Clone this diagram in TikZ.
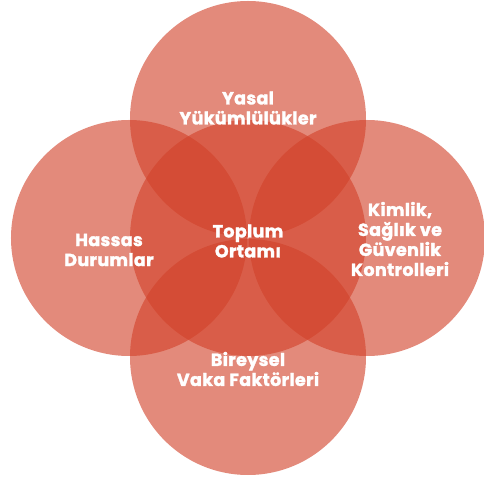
\documentclass[tikz,border=0pt]{standalone}
\usepackage{fontspec}
\setmainfont{Poppins}[BoldFont=* Bold, BoldFeatures={FakeBold=1.6, LetterSpace=2}]
\definecolor{vennred}{RGB}{210,66,42}
\tikzset{
  petal/.style={fill=vennred, fill opacity=0.62},
  petaltext/.style={text=white, inner sep=0pt, align=center,
    font=\bfseries\fontsize{17.5}{20}\selectfont}
}
\begin{document}
\begin{tikzpicture}[x=1pt,y=1pt]
    % --- ÖLÇÜLER ---
    \def\R{118}  % daire yarıçapı
    \def\D{119}  % merkezden daire merkezine uzaklık
    \useasboundingbox (-248,-243) rectangle (236,238);

    % --- DAİRELER ---
    % orta daire (üst üste binen bölgelerde görünür)
    \fill[petal] (0,0) circle (\R);
    % dört dış daire
    \foreach \a/\n in {90/ust, 180/sol, 0/sag, 270/alt} {
        \coordinate (\n) at (\a:\D);
        \fill[petal] (\n) circle (\R);
    }

    % --- YAZILAR ---
    \node[petaltext] (yasal)    at (0,130)    {Yasal\\Yükümlülükler};
    \node[petaltext] (hassas)   at (-139,-12) {Hassas\\Durumlar};
    \node[petaltext] (toplum)   at (0,-3)     {Toplum\\Ortamı};
    \node[petaltext] (kimlik)   at (152,-1)   {Kimlik,\\Sağlık ve\\Güvenlik\\Kontrolleri};
    \node[petaltext] (bireysel) at (0,-131)   {Bireysel\\Vaka Faktörleri};
\end{tikzpicture}
\end{document}
